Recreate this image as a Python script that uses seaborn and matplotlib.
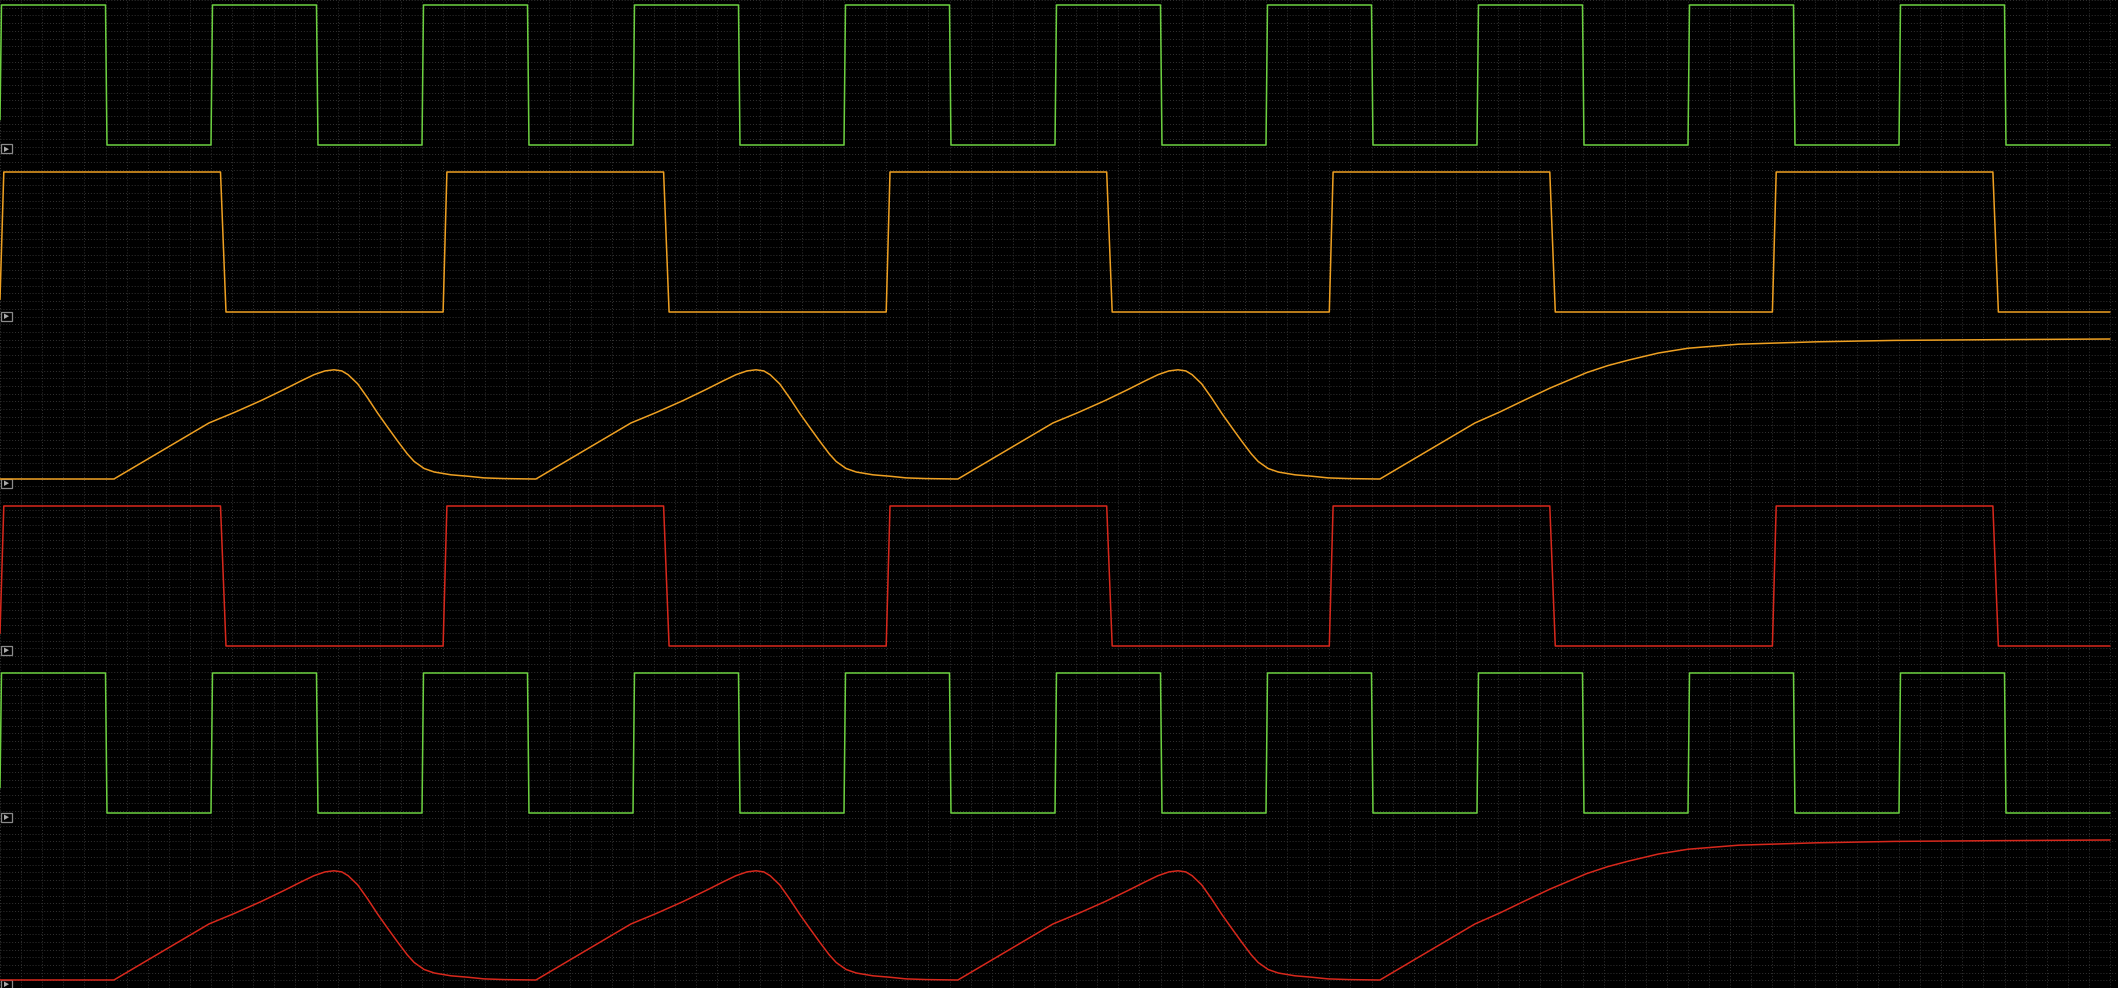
import numpy as np
import pandas as pd
import seaborn as sns
import matplotlib.pyplot as plt
from matplotlib.ticker import MultipleLocator
from matplotlib.patches import Rectangle, Polygon

# time axis runs 0..100 units across the screen
T_END = 100

# clock (green) edges
clock_rise = [0, 10, 20, 30, 40, 50, 60, 70, 80, 90]
clock_fall = [5, 15, 25, 35, 45, 55, 65, 75, 85, 95]
clock_start_level = 0.18

# slow square (orange / red) edges
square_rise = [0, 21, 42, 63, 84]
square_fall = [10.45, 31.45, 52.45, 73.45, 94.45]
square_start_level = 0.09

# integrator pulse (orange / red): start times and shape (dt, level)
pulse_start = [5.4, 25.4, 45.4]
pulse_dt = [0, 4.5, 5.7, 6.97, 8.07, 8.86, 9.48, 10.0, 10.43, 10.8, 11.1, 11.55,
            12.02, 12.5, 12.97, 13.45, 13.9, 14.23, 14.7, 15.18, 15.97, 16.76,
            17.54, 18.5, 19.9]
pulse_lvl = [0, 0.40, 0.475, 0.56, 0.64, 0.70, 0.745, 0.772, 0.78, 0.772, 0.745, 0.68,
             0.58, 0.47, 0.37, 0.27, 0.18, 0.125, 0.075, 0.05, 0.03, 0.02,
             0.008, 0.003, 0.0]
# last pulse never comes down
final_start = 65.4
final_dt = [0, 4.5, 5.7, 6.8, 8.07, 9.8, 10.8, 11.8, 13.2, 14.6, 17.0, 20.7, 24.4, 29.0, 34.6]
final_lvl = [0, 0.40, 0.48, 0.56, 0.65, 0.76, 0.81, 0.85, 0.9, 0.934, 0.963, 0.98, 0.99, 0.995, 1.0]

GREEN = "#6cd040"
ORANGE = "#eea022"
RED = "#d8281c"


def square_trace(rise, fall, start_level, rise_w, fall_w):
    t = [0.0]
    v = [start_level]
    t.append(rise_w)
    v.append(1.0)
    for i, f in enumerate(fall):
        t += [f, f + fall_w]
        v += [1.0, 0.0]
        if i + 1 < len(rise):
            r = rise[i + 1]
            t += [r, r + rise_w]
            v += [0.0, 1.0]
    t.append(T_END)
    v.append(v[-1])
    return pd.DataFrame({"t": t, "v": v})


def pulse_trace():
    t = [0.0]
    v = [0.0]
    for s in pulse_start:
        t += [s + d for d in pulse_dt]
        v += pulse_lvl
    t += [final_start + d for d in final_dt]
    v += final_lvl
    t.append(T_END)
    v.append(final_lvl[-1])
    return pd.DataFrame({"t": t, "v": v})


clock = square_trace(clock_rise, clock_fall, clock_start_level, 0.07, 0.07)
square = square_trace(square_rise, square_fall, square_start_level, 0.18, 0.26)
pulse = pulse_trace()

panels = [(clock, GREEN), (square, ORANGE), (pulse, ORANGE),
          (square, RED), (clock, GREEN), (pulse, RED)]

sns.set_theme(style="dark", rc={"figure.facecolor": "black", "axes.facecolor": "black"})

W, H = 2118, 988
fig = plt.figure(figsize=(W / 100, H / 100), dpi=100)

# background grid in pixel units
bg = fig.add_axes([0, 0, 1, 1])
bg.set_xlim(0, W)
bg.set_ylim(H, 0)
bg.set_facecolor("black")
bg.xaxis.set_major_locator(MultipleLocator(21.1))
bg.yaxis.set_major_locator(MultipleLocator(7.72))
bg.grid(True, color="#333333", linestyle=(0, (1, 2)), linewidth=0.7)
bg.tick_params(left=False, bottom=False, labelleft=False, labelbottom=False)
for sp in bg.spines.values():
    sp.set_visible(False)

PLOT_W = 2110
TOP0, SPAN, STEP = 5, 140, 167

for i, (df, col) in enumerate(panels):
    top = TOP0 + STEP * i
    bottom = top + SPAN
    ax = fig.add_axes([0, 1 - bottom / H, PLOT_W / W, SPAN / H])
    ax.patch.set_alpha(0)
    sns.lineplot(data=df, x="t", y="v", ax=ax, color=col, linewidth=1.1,
                 estimator=None, sort=False, clip_on=False)
    ax.set_xlim(0, T_END)
    ax.set_ylim(0, 1)
    ax.axis("off")

    # little channel marker box under the trace
    bg.add_patch(Rectangle((0.5, bottom - 0.5), 11, 9, facecolor="black",
                           edgecolor="#8a8a8a", linewidth=0.9, zorder=5))
    bg.add_patch(Polygon([(4, bottom + 1.5), (4, bottom + 7), (9, bottom + 4.2)],
                         closed=True, facecolor="#a8a8a8", edgecolor="none", zorder=6))

fig.savefig("out.png", dpi=100, facecolor="black")
